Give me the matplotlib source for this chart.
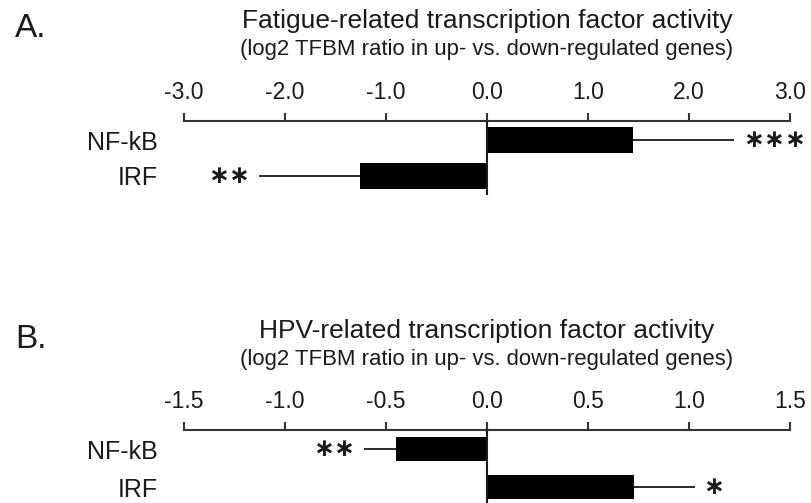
import matplotlib
matplotlib.use('Agg')
import matplotlib.pyplot as plt

# dados
fatores = ['NF-kB', 'IRF']

fadiga_vals = [1.45, -1.26]
fadiga_err = [1.00, 1.00]
fadiga_sig = ['∗∗∗', '∗∗']
fadiga_ticks = [-3.0, -2.0, -1.0, 0.0, 1.0, 2.0, 3.0]

hpv_vals = [-0.45, 0.73]
hpv_err = [0.16, 0.30]
hpv_sig = ['∗∗', '∗']
hpv_ticks = [-1.5, -1.0, -0.5, 0.0, 0.5, 1.0, 1.5]

titulo_a = 'Fatigue-related transcription factor activity'
titulo_b = 'HPV-related transcription factor activity'
subtitulo = '(log2 TFBM ratio in up- vs. down-regulated genes)'

plt.rcParams['font.family'] = ['Liberation Sans', 'DejaVu Sans']
plt.rcParams['axes.unicode_minus'] = False
cor_txt = '#1a1a1a'
cor_eixo = '#333333'

W, H = 811, 503
fig = plt.figure(figsize=(W / 100, H / 100), dpi=100)


def fy(px):
    return 1 - px / H


def painel(ax, vals, errs, sig, ticks, bar_h, ylim):
    y = list(range(len(fatores)))
    ax.barh(y, vals, height=bar_h, color='black', zorder=2)
    lower = [e if v < 0 else 0 for v, e in zip(vals, errs)]
    upper = [e if v > 0 else 0 for v, e in zip(vals, errs)]
    ax.errorbar(vals, y, xerr=[lower, upper], fmt='none', ecolor=cor_txt,
                elinewidth=1.3, capsize=0, zorder=1)
    for i, (v, e, s) in enumerate(zip(vals, errs, sig)):
        sinal = 1 if v > 0 else -1
        ax.annotate(s, (v + sinal * e, i), xytext=(sinal * 6, 0),
                    textcoords='offset points',
                    ha='left' if sinal > 0 else 'right', va='center',
                    fontsize=18, family='DejaVu Sans', fontweight='bold',
                    color=cor_txt)
    ax.axvline(0, color=cor_txt, lw=1.5, zorder=3)
    ax.set_xlim(ticks[0], ticks[-1])
    ax.set_ylim(ylim)
    ax.set_xticks(ticks, [f'{t:.1f}' for t in ticks])
    ax.set_yticks(y, fatores)
    ax.xaxis.tick_top()
    for lado in ['left', 'right', 'bottom']:
        ax.spines[lado].set_visible(False)
    ax.spines['top'].set_color(cor_eixo)
    ax.spines['top'].set_linewidth(1.5)
    ax.tick_params(axis='x', direction='out', length=6, width=1.5,
                   color=cor_eixo, pad=6, labelsize=16.5, labelcolor=cor_txt)
    ax.tick_params(axis='y', length=0, pad=19, labelsize=18, labelcolor=cor_txt)
    ax.patch.set_visible(False)


# painel A
ax_a = fig.add_axes([184 / W, fy(195), 606 / W, 74 / H])
painel(ax_a, fadiga_vals, fadiga_err, fadiga_sig, fadiga_ticks, 0.72, (1.53, -0.53))

# painel B
ax_b = fig.add_axes([184 / W, 0, 606 / W, 73 / H])
painel(ax_b, hpv_vals, hpv_err, hpv_sig, hpv_ticks, 0.64, (1.42, -0.5))

xc = (184 + 303) / W
fig.text(15 / W, fy(37), 'A.', fontsize=24, color=cor_txt, va='baseline')
fig.text(xc, fy(28), titulo_a, fontsize=19, ha='center', va='baseline', color=cor_txt)
fig.text(xc, fy(55), subtitulo, fontsize=15.9, ha='center', va='baseline', color=cor_txt)

fig.text(15 / W, fy(348), 'B.', fontsize=24, color=cor_txt, va='baseline')
fig.text(xc, fy(338), titulo_b, fontsize=19, ha='center', va='baseline', color=cor_txt)
fig.text(xc, fy(365), subtitulo, fontsize=15.9, ha='center', va='baseline', color=cor_txt)

fig.savefig('out.png', dpi=100)
